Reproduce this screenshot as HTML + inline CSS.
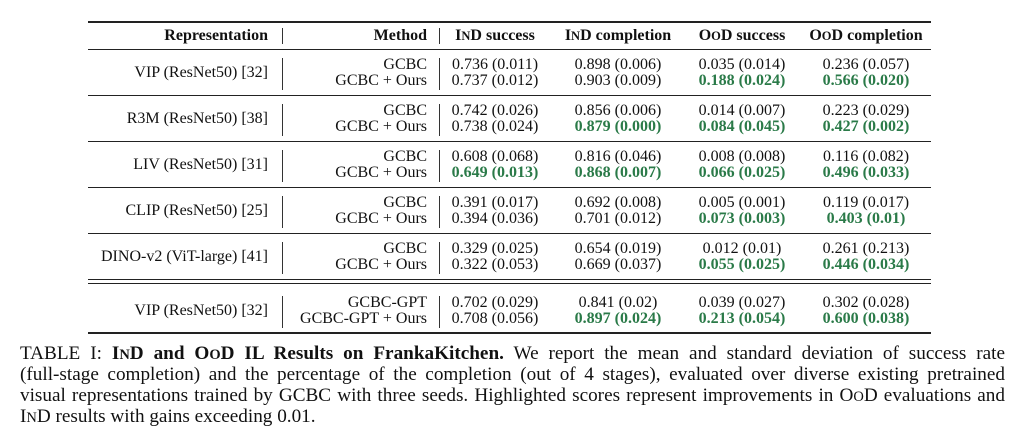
<!DOCTYPE html>
<html><head><meta charset="utf-8"><style>
body{margin:0;width:1024px;height:445px;background:#fff;font-family:"Liberation Serif",serif;color:#111;position:relative;overflow:hidden}
.r{position:absolute;left:88px;width:843px;background:#222}
.t{position:absolute;font-size:16px;white-space:nowrap;line-height:16px}
.v{position:absolute;width:1px;background:#333}
.g{color:#2a7a48;font-weight:bold}
.b{font-weight:bold}
.sc{font-size:12.5px}
.cl{position:absolute;left:20px;width:985px;font-size:19.2px;line-height:20px;white-space:nowrap;text-align:justify;text-align-last:justify}
.cl .sc{font-size:14.5px}
</style></head><body>
<div class="r" style="top:21px;height:1.6px"></div>
<div class="r" style="top:49px;height:1px"></div>
<div class="r" style="top:95px;height:1px"></div>
<div class="r" style="top:141px;height:1px"></div>
<div class="r" style="top:187px;height:1px"></div>
<div class="r" style="top:233px;height:1px"></div>
<div class="r" style="top:279px;height:1px"></div>
<div class="r" style="top:283px;height:1px"></div>
<div class="r" style="top:332px;height:1.6px"></div>

<div class="v" style="left:282px;top:28px;height:16px"></div>
<div class="v" style="left:439px;top:28px;height:16px"></div>
<div class="t b" style="left:90px;width:178px;text-align:right;top:28px">Representation</div>
<div class="t b" style="left:290px;width:137px;text-align:right;top:28px">Method</div>
<div class="t b" style="left:440px;width:110px;text-align:center;top:28px">I<span class="sc">N</span>D success</div>
<div class="t b" style="left:550px;width:136px;text-align:center;top:28px">I<span class="sc">N</span>D completion</div>
<div class="t b" style="left:686px;width:112px;text-align:center;top:28px">O<span class="sc">O</span>D success</div>
<div class="t b" style="left:798px;width:136px;text-align:center;top:28px">O<span class="sc">O</span>D completion</div>

<div id="rows"></div>
<script>
var d=[
["VIP (ResNet50) [32]",57,["GCBC","GCBC + Ours"],[["0.736 (0.011)","0.737 (0.012)"],["0.898 (0.006)","0.903 (0.009)"],["0.035 (0.014)","g0.188 (0.024)"],["0.236 (0.057)","g0.566 (0.020)"]]],
["R3M (ResNet50) [38]",103,["GCBC","GCBC + Ours"],[["0.742 (0.026)","0.738 (0.024)"],["0.856 (0.006)","g0.879 (0.000)"],["0.014 (0.007)","g0.084 (0.045)"],["0.223 (0.029)","g0.427 (0.002)"]]],
["LIV (ResNet50) [31]",149,["GCBC","GCBC + Ours"],[["0.608 (0.068)","g0.649 (0.013)"],["0.816 (0.046)","g0.868 (0.007)"],["0.008 (0.008)","g0.066 (0.025)"],["0.116 (0.082)","g0.496 (0.033)"]]],
["CLIP (ResNet50) [25]",195,["GCBC","GCBC + Ours"],[["0.391 (0.017)","0.394 (0.036)"],["0.692 (0.008)","0.701 (0.012)"],["0.005 (0.001)","g0.073 (0.003)"],["0.119 (0.017)","g0.403 (0.01)"]]],
["DINO-v2 (ViT-large) [41]",241,["GCBC","GCBC + Ours"],[["0.329 (0.025)","0.322 (0.053)"],["0.654 (0.019)","0.669 (0.037)"],["0.012 (0.01)","g0.055 (0.025)"],["0.261 (0.213)","g0.446 (0.034)"]]],
["VIP (ResNet50) [32]",295,["GCBC-GPT","GCBC-GPT + Ours"],[["0.702 (0.029)","0.708 (0.056)"],["0.841 (0.02)","g0.897 (0.024)"],["0.039 (0.027)","g0.213 (0.054)"],["0.302 (0.028)","g0.600 (0.038)"]]]];
var cols=[[440,110],[550,136],[686,112],[798,136]];
var h="";
d.forEach(function(g){var y=g[1];
h+='<div class="v" style="left:282px;top:'+(y+1)+'px;height:32px"></div><div class="v" style="left:439px;top:'+(y+1)+'px;height:32px"></div>';
h+='<div class="t" style="left:60px;width:208px;text-align:right;top:'+(y+8)+'px">'+g[0]+'</div>';
for(var i=0;i<2;i++){var yy=y+i*16;
h+='<div class="t" style="left:290px;width:137px;text-align:right;top:'+yy+'px">'+g[2][i]+'</div>';
g[3].forEach(function(c,j){var s=c[i],cl="t";if(s[0]=="g"){s=s.slice(1);cl+=" g";}
h+='<div class="'+cl+'" style="left:'+cols[j][0]+'px;width:'+cols[j][1]+'px;text-align:center;top:'+yy+'px">'+s+'</div>';});}
});
document.getElementById("rows").innerHTML=h;
</script>
<div class="cl" style="top:344px">TABLE I: <b>I<span class="sc">N</span>D and O<span class="sc">O</span>D IL Results on FrankaKitchen.</b> We report the mean and standard deviation of success rate</div>
<div class="cl" style="top:365px">(full-stage completion) and the percentage of the completion (out of 4 stages), evaluated over diverse existing pretrained</div>
<div class="cl" style="top:386px">visual representations trained by GCBC with three seeds. Highlighted scores represent improvements in O<span class="sc">O</span>D evaluations and</div>
<div class="cl" style="top:407px;text-align-last:left">I<span class="sc">N</span>D results with gains exceeding 0.01.</div>
</body></html>
